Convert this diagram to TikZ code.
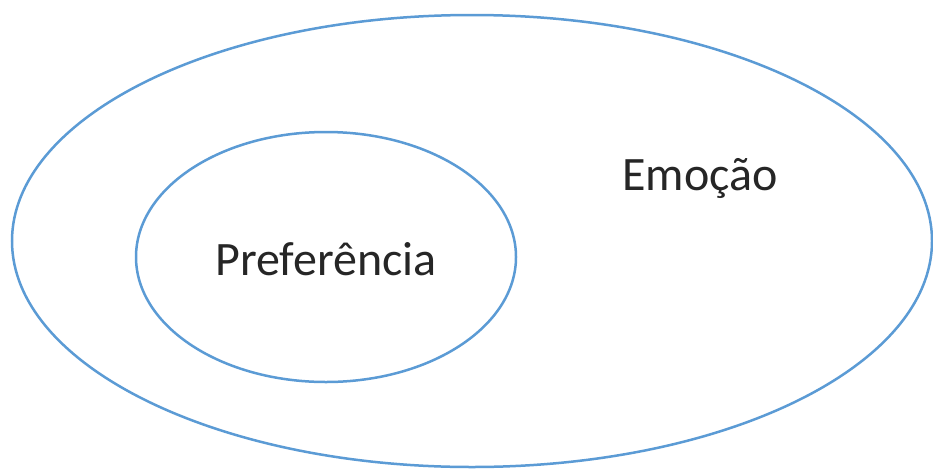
\documentclass[tikz,border=0pt]{standalone}
\usepackage{fontspec}
\setmainfont{Carlito}
\definecolor{ringblue}{HTML}{5B9BD5}
\definecolor{labelgray}{HTML}{262626}
\begin{document}
\begin{tikzpicture}[x=1pt,y=-1pt,
  ring/.style={draw=ringblue,line width=2.5pt},
  setlabel/.style={text=labelgray,font=\fontsize{48}{58}\selectfont,inner sep=0pt,anchor=base}]
  \useasboundingbox (0,0) rectangle (933,469);
  \fill[white] (0,0) rectangle (933,469);
  \draw[ring] (472,241) ellipse [x radius=460,y radius=226];
  \draw[ring] (326,257) ellipse [x radius=190,y radius=125];
  \node[setlabel] (pref) at (326,275) {Preferência};
  \node[setlabel] (emo) at (700,190) {Emoção};
\end{tikzpicture}
\end{document}
